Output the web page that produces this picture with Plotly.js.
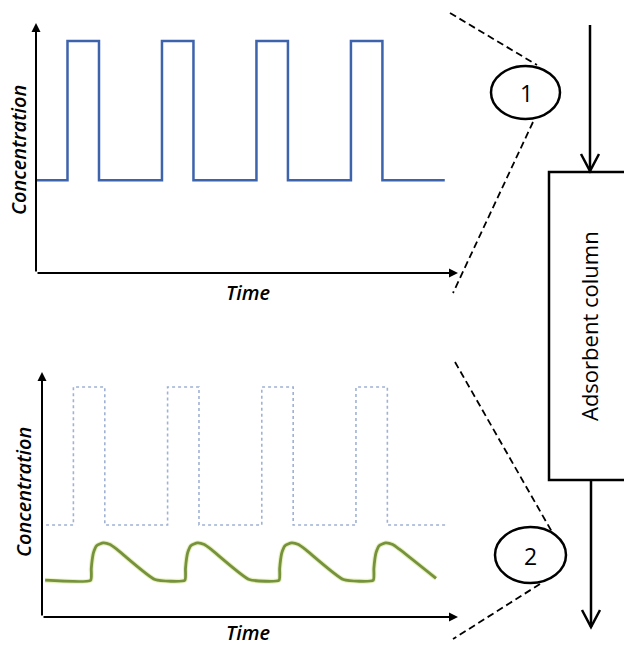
<!DOCTYPE html>
<html>
<head>
<meta charset="utf-8">
<script src="https://cdn.plot.ly/plotly-3.0.1.min.js"></script>
<style>html,body{margin:0;padding:0;background:#fff}#chart{width:624px;height:646px}</style>
</head>
<body>
<div id="chart"></div>
<script>
// ---- Data (time in arbitrary units, concentration relative to feed peak) ----
// Panel 1: feed concentration (square pulses) entering the column
var feedTime = [0.03, 1, 1, 2, 2, 4, 4, 5, 5, 7, 7, 8, 8, 10, 10, 11, 11, 12.98];
var feedConc = [0.4, 0.4, 1, 1, 0.4, 0.4, 1, 1, 0.4, 0.4, 1, 1, 0.4, 0.4, 1, 1, 0.4, 0.4];

// Panel 2: reference feed (dotted) and outlet concentration (green)
var refTime = [0.13, 1, 1, 2, 2, 4, 4, 5, 5, 7, 7, 8, 8, 10, 10, 11, 11, 12.9];
var refConc = [0.4, 0.4, 1, 1, 0.4, 0.4, 1, 1, 0.4, 0.4, 1, 1, 0.4, 0.4, 1, 1, 0.4, 0.4];

var outTime = [0.1, 1.55, 1.57, 1.6, 1.64, 1.74, 1.95, 2.17, 2.38, 3.6,
               4.55, 4.57, 4.6, 4.64, 4.74, 4.95, 5.17, 5.38, 6.6,
               7.55, 7.57, 7.6, 7.64, 7.74, 7.95, 8.17, 8.38, 9.6,
               10.55, 10.57, 10.6, 10.64, 10.74, 10.95, 11.17, 11.38, 12.55];
var outConc = [0.16, 0.16, 0.21, 0.25, 0.28, 0.31, 0.322, 0.315, 0.295, 0.163,
               0.16, 0.21, 0.25, 0.28, 0.31, 0.322, 0.315, 0.295, 0.163,
               0.16, 0.21, 0.25, 0.28, 0.31, 0.322, 0.315, 0.295, 0.163,
               0.16, 0.21, 0.25, 0.28, 0.31, 0.322, 0.315, 0.295, 0.168];

var xLabel = "Time";
var yLabel = "Concentration";
var columnLabel = "Adsorbent column";
var pointLabels = ["1", "2"];

// ---- Layout helpers (pixel -> paper) ----
var W = 624, H = 646;
function px(x) { return x / W; }
function py(y) { return 1 - y / H; }

var traces = [
  {x: feedTime, y: feedConc, xaxis: 'x', yaxis: 'y', mode: 'lines',
   line: {color: '#3d63ad', width: 2.5}, hoverinfo: 'skip'},
  {x: refTime, y: refConc, xaxis: 'x2', yaxis: 'y2', mode: 'lines',
   line: {color: '#9fb1d4', width: 1.6, dash: 'dot'}, hoverinfo: 'skip'},
  {x: outTime, y: outConc, xaxis: 'x2', yaxis: 'y2', mode: 'lines',
   line: {color: 'rgba(215,232,150,0.6)', width: 5, shape: 'spline', smoothing: 0.5}, hoverinfo: 'skip'},
  {x: outTime, y: outConc, xaxis: 'x2', yaxis: 'y2', mode: 'lines',
   line: {color: '#76923c', width: 2.8, shape: 'spline', smoothing: 0.5}, hoverinfo: 'skip'}
];

var hidden = {showline: false, showgrid: false, zeroline: false, showticklabels: false, ticks: '', fixedrange: true};

var x1max = 13.4, y1max = 1.0776, x2max = 13.25, y2max = 1.0652;

function axisArrow(xr, yr, xh, yh, xt, yt) {
  return {xref: xr, yref: yr, axref: xr, ayref: yr, x: xh, y: yh, ax: xt, ay: yt,
          showarrow: true, arrowhead: 2, arrowsize: 0.9, arrowwidth: 2, arrowcolor: '#000', text: ''};
}

var labelFont = {family: 'Open Sans, sans-serif', size: 20, color: '#000', style: 'italic', weight: 600};

function label(x, y, text, font, angle) {
  return {xref: 'paper', yref: 'paper', x: px(x), y: py(y), text: text, textangle: angle || 0,
          xanchor: 'center', yanchor: 'middle', showarrow: false, font: font};
}

var annotations = [
  axisArrow('x', 'y', 0, y1max, 0, 0),
  axisArrow('x', 'y', x1max, 0, 0, 0),
  axisArrow('x2', 'y2', 0, y2max, 0, 0),
  axisArrow('x2', 'y2', x2max, 0, 0, 0),
  label(18, 150, yLabel, labelFont, -90),
  label(248, 292, xLabel, labelFont),
  label(23, 492, yLabel, labelFont, -90),
  label(248, 632, xLabel, labelFont),
  label(589, 326, columnLabel, {family: 'Open Sans, sans-serif', size: 22, color: '#000'}, -90),
  label(526, 93, pointLabels[0], {family: 'Open Sans, sans-serif', size: 23, color: '#000'}),
  label(530, 556, pointLabels[1], {family: 'Open Sans, sans-serif', size: 23, color: '#000'})
];

function line(x0, y0, x1, y1, w, dash) {
  return {type: 'line', xref: 'paper', yref: 'paper', x0: px(x0), y0: py(y0), x1: px(x1), y1: py(y1),
          line: {color: '#000', width: w, dash: dash || 'solid'}};
}
function path(pts, w) {
  var d = pts.map(function (p, i) { return (i ? 'L' : 'M') + px(p[0]) + ',' + py(p[1]); }).join(' ');
  return {type: 'path', xref: 'paper', yref: 'paper', path: d, line: {color: '#000', width: w}};
}

var dashPattern = '7px,4px';

var shapes = [
  // column box
  {type: 'rect', xref: 'paper', yref: 'paper', x0: px(549), x1: px(640), y0: py(172), y1: py(480),
   line: {color: '#000', width: 2.5}, fillcolor: 'rgba(0,0,0,0)'},
  // inlet arrow
  line(590, 25, 590, 171, 2.5),
  path([[581, 154], [590, 171], [599, 154]], 2.5),
  // outlet arrow
  line(591, 481, 591, 627, 2.5),
  path([[582, 610], [591, 627], [600, 610]], 2.5),
  // sampling point ellipses
  {type: 'circle', xref: 'paper', yref: 'paper', x0: px(491), x1: px(560), y0: py(119), y1: py(66),
   line: {color: '#000', width: 2.5}},
  {type: 'circle', xref: 'paper', yref: 'paper', x0: px(495), x1: px(566), y0: py(583), y1: py(527),
   line: {color: '#000', width: 2.5}},
  // dashed zoom lines
  line(450, 13, 537, 65, 1.8, dashPattern),
  line(533, 122, 453, 293, 1.8, dashPattern),
  line(455, 362, 552, 532, 1.8, dashPattern),
  line(540, 584, 453, 639, 1.8, dashPattern)
];

var layout = {
  width: W, height: H,
  margin: {l: 0, r: 0, t: 0, b: 0},
  paper_bgcolor: '#fff', plot_bgcolor: 'rgba(0,0,0,0)',
  showlegend: false,
  xaxis: Object.assign({domain: [px(36), px(458)], range: [0, x1max], anchor: 'y'}, hidden),
  yaxis: Object.assign({domain: [py(273), py(23)], range: [0, y1max], anchor: 'x'}, hidden),
  xaxis2: Object.assign({domain: [px(42), px(458)], range: [0, x2max], anchor: 'y2'}, hidden),
  yaxis2: Object.assign({domain: [py(617), py(372)], range: [0, y2max], anchor: 'x2'}, hidden),
  annotations: annotations,
  shapes: shapes
};

Plotly.newPlot('chart', traces, layout, {displayModeBar: false, staticPlot: true});
</script>
</body>
</html>
